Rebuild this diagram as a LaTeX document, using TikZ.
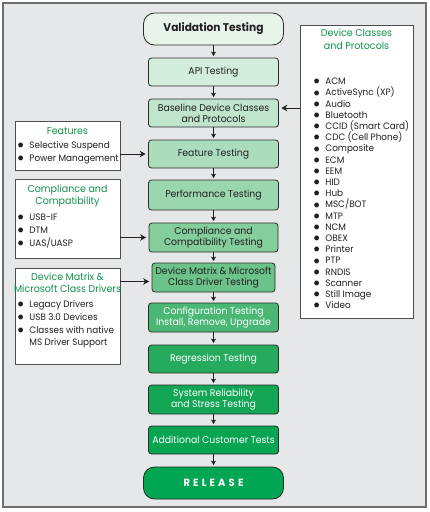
\documentclass[tikz,border=0pt]{standalone}
\usepackage{fontspec}
\usepackage{graphicx}
\setmainfont{Poppins}[FakeStretch=0.95]
\usetikzlibrary{arrows.meta}
\definecolor{bgc}{HTML}{E6E7E8}
\definecolor{frame}{HTML}{6D6E71}
\definecolor{boxline}{HTML}{2B2B2B}
\definecolor{sideline}{HTML}{4D4D4F}
\definecolor{headc}{HTML}{12924A}
\definecolor{txt}{HTML}{231F20}
\definecolor{c0}{HTML}{E6F4EA}
\definecolor{c1}{HTML}{D2EDDB}
\definecolor{c2}{HTML}{BFE5CC}
\definecolor{c3}{HTML}{ABDDBC}
\definecolor{c4}{HTML}{9AD6AE}
\definecolor{c5}{HTML}{84CD9C}
\definecolor{c6}{HTML}{6CC38A}
\definecolor{c7}{HTML}{4AB774}
\definecolor{c8}{HTML}{26AB5E}
\definecolor{c9}{HTML}{12A655}
\definecolor{c10}{HTML}{07A451}
\definecolor{c11}{HTML}{00A651}
\newcommand{\mainfs}{\fontsize{9.8}{11}\selectfont}
\newcommand{\sidefs}{\fontsize{9.3}{11.2}\selectfont}
\newcommand{\leftfs}{\fontsize{9.3}{12.7}\selectfont}
\newcommand{\headfs}{\fontsize{10}{12.3}\selectfont}
\newcommand{\bul}{\raisebox{-0.2pt}{\scalebox{1.35}{$\bullet$}}\hspace{5.5pt}}
\newcommand{\nobul}{\hphantom{\scalebox{1.35}{$\bullet$}}\hspace{5.5pt}}
\tikzset{
  mbox/.style={draw=boxline, line width=0.8pt, rounded corners=3pt,
    minimum width=130pt, minimum height=28pt, align=center, inner sep=1pt,
    font=\mainfs, text=txt},
  wbox/.style={mbox, text=white},
  endbox/.style={mbox, minimum width=140pt, minimum height=32pt, rounded corners=11pt},
  sbox/.style={draw=sideline, fill=white, line width=0.8pt, inner sep=0pt},
  headtext/.style={anchor=north, align=center, inner sep=0pt, text=headc, font=\headfs},
  itemtext/.style={anchor=north west, align=left, inner sep=0pt, text=txt},
  flow/.style={-{Stealth[length=4.5pt,width=5pt,inset=1.2pt]}, line width=0.8pt, shorten >=1.5pt, draw=txt},
  feed/.style={-{Stealth[length=6pt,width=6.5pt,inset=2pt]}, line width=0.8pt, shorten >=2.5pt, draw=txt}
}
\begin{document}
\begin{tikzpicture}[x=1pt,y=-1pt]
\useasboundingbox (0,0) rectangle (429,512);
\path[fill=bgc, draw=frame, line width=1.6pt] (3,3) rectangle (426,507);
% main column
\node[endbox, fill=c0, font=\fontsize{11.2}{12}\selectfont\bfseries] (val) at (213.5,29) {Validation Testing};
\node[mbox, fill=c1] (api) at (213.5,72) {API Testing};
\node[mbox, fill=c2] (base) at (213.5,113) {Baseline Device Classes\\and Protocols};
\node[mbox, fill=c3] (feat) at (213.5,154) {Feature Testing};
\node[mbox, fill=c4, minimum height=30pt] (perf) at (213.5,195) {Performance Testing};
\node[mbox, fill=c5, minimum width=129pt, minimum height=29pt] (comp) at (213.5,237.5) {Compliance and\\Compatibility Testing};
\node[mbox, fill=c6, minimum width=123pt, minimum height=29pt] (dmt) at (213.5,277.5) {Device Matrix \& Microsoft\\Class Driver Testing};
\node[wbox, fill=c7, minimum height=29pt] (conf) at (213.5,317.5) {Configuration Testing\\Install, Remove, Upgrade};
\node[wbox, fill=c8] (reg) at (213.5,359) {Regression Testing};
\node[wbox, fill=c9, minimum height=29pt] (sys) at (213.5,399.5) {System Reliability\\and Stress Testing};
\node[wbox, fill=c10] (add) at (213.5,440) {Additional Customer Tests};
\node[endbox, fill=c11, text=white, font=\fontsize{10.5}{12}\selectfont\bfseries\addfontfeature{LetterSpace=30}] (rel) at (213.5,483) {RELEASE};
\draw[flow] (val) -- (api);
\draw[flow] (api) -- (base);
\draw[flow] (base) -- (feat);
\draw[flow] (feat) -- (perf);
\draw[flow] (perf) -- (comp);
\draw[flow] (comp) -- (dmt);
\draw[flow] (dmt) -- (conf);
\draw[flow] (conf) -- (reg);
\draw[flow] (reg) -- (sys);
\draw[flow] (sys) -- (add);
\draw[flow] (add) -- (rel);
% right box
\node[sbox, minimum width=113pt, minimum height=293pt] (rbox) at (356.5,171.5) {};
\node[headtext] (rhead) at (356.5,29) {Device Classes\\and Protocols};
\node[itemtext, font=\sidefs] (ritems) at (313.5,78) {\bul ACM\\\bul ActiveSync (XP)\\\bul Audio\\\bul Bluetooth\\\bul CCID (Smart Card)\\\bul CDC (Cell Phone)\\\bul Composite\\\bul ECM\\\bul EEM\\\bul HID\\\bul Hub\\\bul MSC/BOT\\\bul MTP\\\bul NCM\\\bul OBEX\\\bul Printer\\\bul PTP\\\bul RNDIS\\\bul Scanner\\\bul Still Image\\\bul Video};
\coordinate (bin) at ([yshift=5pt]base.east);
\draw[feed] (rbox.west |- bin) -- (bin);
% left boxes
\node[sbox, minimum width=105pt, minimum height=49pt] (fbox) at (67.5,145.5) {};
\node[headtext] (fhead) at (67.5,127) {Features};
\node[itemtext, font=\leftfs] (fitems) at (17.5,141.5) {\bul Selective Suspend\\\bul Power Management};
\draw[feed] (fbox.east |- feat.west) -- (feat.west);
\node[sbox, minimum width=105pt, minimum height=79pt] (cbox) at (67.5,218.5) {};
\node[headtext] (chead) at (67.5,184.5) {Compliance and\\Compatibility};
\node[itemtext, font=\leftfs] (citems) at (17.5,214) {\bul USB-IF\\\bul DTM\\\bul UAS/UASP};
\draw[feed] (cbox.east |- comp.west) -- (comp.west);
\node[sbox, minimum width=105pt, minimum height=96pt] (dbox) at (67.5,316) {};
\node[headtext] (dhead) at (67.5,272.5) {Device Matrix \&\\Microsoft Class Drivers};
\node[itemtext, font=\leftfs] (ditems) at (17.5,300.5) {\bul Legacy Drivers\\\bul USB 3.0 Devices\\\bul Classes with native\\\nobul MS Driver Support};
\coordinate (din) at ([yshift=-4pt]dmt.west);
\draw[feed] (dbox.east |- din) -- (din);
\end{tikzpicture}
\end{document}
